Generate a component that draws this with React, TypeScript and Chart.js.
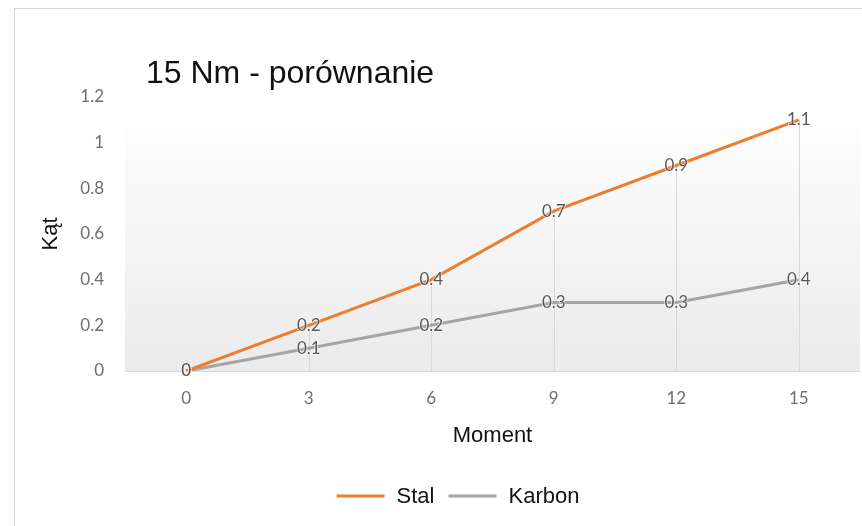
import React, { useEffect, useRef } from "react";
import { Chart, registerables } from "chart.js";

Chart.register(...registerables);

const chartTitle = "15 Nm - porównanie";
const categories = ["0", "3", "6", "9", "12", "15"];
const stalValues = [0, 0.2, 0.4, 0.7, 0.9, 1.1];
const karbonValues = [0, 0.1, 0.2, 0.3, 0.3, 0.4];
const seriesNames = ["Stal", "Karbon"];
const seriesColors = ["#ED7D31", "#A5A5A5"];
const yTitle = "Kąt";
const xTitle = "Moment";
const yMin = 0;
const yMax = 1.2;
const yStep = 0.2;

const fmt = (v: number) => String(Number(v.toFixed(1)));

const decorPlugin = {
  id: "decor",
  beforeDraw(chart: any) {
    const { ctx, chartArea } = chart;
    ctx.save();
    ctx.strokeStyle = "#d9d9d9";
    ctx.lineWidth = 1;
    ctx.strokeRect(14.5, 8.5, 1000, 1000);
    const top = chartArea.top + 31;
    const g = ctx.createLinearGradient(0, top, 0, chartArea.bottom);
    g.addColorStop(0, "#fdfdfd");
    g.addColorStop(1, "#ebebeb");
    ctx.fillStyle = g;
    ctx.fillRect(chartArea.left, top, chartArea.right - chartArea.left, chartArea.bottom - top);
    ctx.restore();
  },
  beforeDatasetsDraw(chart: any) {
    const { ctx, chartArea } = chart;
    const metas = chart.data.datasets.map((_: any, i: number) => chart.getDatasetMeta(i));
    const n = chart.data.labels.length;
    ctx.save();
    ctx.strokeStyle = "#d9d9d9";
    ctx.lineWidth = 1;
    for (let i = 0; i < n; i++) {
      let minY = Infinity;
      let x = 0;
      metas.forEach((m: any) => {
        const p = m.data[i];
        if (p && p.y < minY) { minY = p.y; x = p.x; }
      });
      if (minY < chartArea.bottom - 1) {
        const xx = Math.round(x) + 0.5;
        ctx.beginPath();
        ctx.moveTo(xx, minY);
        ctx.lineTo(xx, chartArea.bottom);
        ctx.stroke();
      }
    }
    ctx.restore();
  },
  afterDatasetsDraw(chart: any) {
    const { ctx } = chart;
    ctx.save();
    ctx.font = "17px Lato";
    ctx.textAlign = "center";
    ctx.textBaseline = "middle";
    chart.data.datasets.forEach((ds: any, di: number) => {
      const meta = chart.getDatasetMeta(di);
      meta.data.forEach((p: any, i: number) => {
        const t = fmt(ds.data[i]);
        ctx.lineWidth = 2;
        ctx.strokeStyle = "rgba(255,255,255,0.55)";
        ctx.strokeText(t, p.x, p.y);
        ctx.fillStyle = "#595959";
        ctx.fillText(t, p.x, p.y);
      });
    });
    ctx.restore();
  },
  afterDraw(chart: any) {
    const { ctx } = chart;
    ctx.save();
    ctx.font = "32px 'Liberation Sans'";
    ctx.fillStyle = "#111111";
    ctx.textAlign = "left";
    ctx.textBaseline = "alphabetic";
    ctx.fillText(chartTitle, 146, 83);
    ctx.font = "22px 'Liberation Sans'";
    ctx.textBaseline = "middle";
    const lineLen = 48;
    const gap = 12;
    const itemGap = 14;
    const widths = chart.data.datasets.map((ds: any) => lineLen + gap + ctx.measureText(ds.label).width);
    const total = widths.reduce((a: number, b: number) => a + b, 0) + itemGap * (widths.length - 1);
    let x = 458 - total / 2;
    const y = 496;
    chart.data.datasets.forEach((ds: any, i: number) => {
      ctx.strokeStyle = ds.borderColor;
      ctx.lineWidth = 3;
      ctx.beginPath();
      ctx.moveTo(x, y);
      ctx.lineTo(x + lineLen, y);
      ctx.stroke();
      ctx.fillStyle = "#111111";
      ctx.fillText(ds.label, x + lineLen + gap, y + 1);
      x += widths[i] + itemGap;
    });
    ctx.restore();
  },
};

export default function App() {
  const ref = useRef<HTMLCanvasElement>(null);
  useEffect(() => {
    if (!ref.current) return;
    const chart = new Chart(ref.current, {
      type: "line",
      data: {
        labels: categories,
        datasets: [
          {
            label: seriesNames[0],
            data: stalValues,
            borderColor: seriesColors[0],
            backgroundColor: seriesColors[0],
            borderWidth: 3,
            pointRadius: 0,
            tension: 0,
          },
          {
            label: seriesNames[1],
            data: karbonValues,
            borderColor: seriesColors[1],
            backgroundColor: seriesColors[1],
            borderWidth: 3,
            pointRadius: 0,
            tension: 0,
          },
        ],
      },
      options: {
        animation: false,
        responsive: false,
        events: [],
        layout: { padding: { left: 14, right: 2, top: 97, bottom: 51 } },
        plugins: {
          legend: { display: false },
          title: { display: false },
          tooltip: { enabled: false },
        },
        scales: {
          x: {
            offset: true,
            grid: { display: false, drawTicks: false },
            border: { display: true, color: "#d9d9d9", width: 1 },
            ticks: { color: "#6f6f6f", font: { family: "Lato", size: 17 }, padding: 17 },
            title: {
              display: true,
              text: xTitle,
              color: "#111111",
              font: { family: "Liberation Sans", size: 22 },
              padding: { top: 10, bottom: 25.5 },
            },
            afterFit: (s: any) => { s.height = 104; },
          },
          y: {
            min: yMin,
            max: yMax,
            grid: { display: false, drawTicks: false },
            border: { display: false },
            ticks: {
              stepSize: yStep,
              color: "#6f6f6f",
              font: { family: "Lato", size: 17 },
              padding: 21,
              callback: (v: any) => fmt(Number(v)),
            },
            title: {
              display: true,
              text: yTitle,
              color: "#111111",
              font: { family: "Liberation Sans", size: 22 },
              padding: { top: 24, bottom: 0 },
            },
            afterFit: (s: any) => { s.width = 111; },
          },
        },
      },
      plugins: [decorPlugin],
    });
    return () => chart.destroy();
  }, []);
  return (
    <div style={{ position: "absolute", left: 0, top: 0, width: 862, height: 526, background: "#ffffff" }}>
      <canvas ref={ref} width={862} height={526} style={{ display: "block" }} />
    </div>
  );
}
